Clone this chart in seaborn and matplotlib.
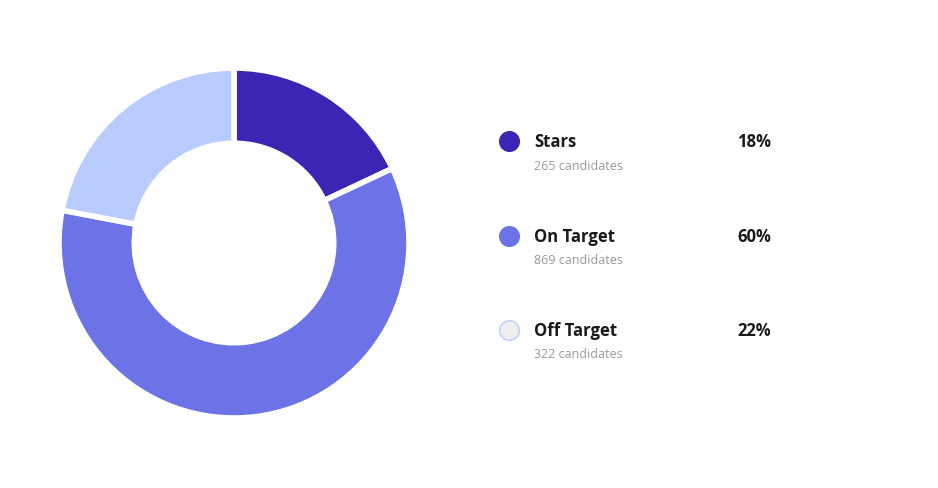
import seaborn as sns
import matplotlib.pyplot as plt

categories = ["Stars", "On Target", "Off Target"]
shares = [18, 60, 22]
counts = [265, 869, 322]
colors = ["#3D24B5", "#6B73E6", "#B8CCFF"]
marker_fill = ["#3D24B5", "#6B73E6", "#EEEEEE"]

sns.set_theme(style="white")
plt.rcParams['font.family'] = ['Open Sans', 'Noto Sans', 'DejaVu Sans']

fig = plt.figure(figsize=(9.38, 4.89), dpi=100)
W, H = 938, 489

# donut
ax = fig.add_axes([59 / W, 70 / H, 350 / W, 350 / H])
ax.pie(shares, colors=colors, startangle=90, counterclock=False,
       wedgeprops=dict(width=0.43, edgecolor="white", linewidth=4))
ax.set_xlim(-1, 1)
ax.set_ylim(-1, 1)
ax.set_aspect("equal")
ax.axis("off")

# legend
lg = fig.add_axes([0, 0, 1, 1])
lg.set_xlim(0, W)
lg.set_ylim(H, 0)
lg.axis("off")
for i, (cat, s, n) in enumerate(zip(categories, shares, counts)):
    y = 142 + i * 94.5
    lg.scatter([509], [y], s=200, color=marker_fill[i], edgecolor=colors[i], linewidth=1.0, zorder=3)
    lg.text(534, y, cat, fontsize=12, fontweight="bold", color="#1a1a1a", va="center", ha="left")
    lg.text(771, y, f"{s}%", fontsize=12, fontweight="bold", color="#1a1a1a", va="center", ha="right")
    lg.text(534, y + 24, f"{n} candidates", fontsize=9, color="#999999", va="center", ha="left")

fig.savefig("out.png", dpi=100)
